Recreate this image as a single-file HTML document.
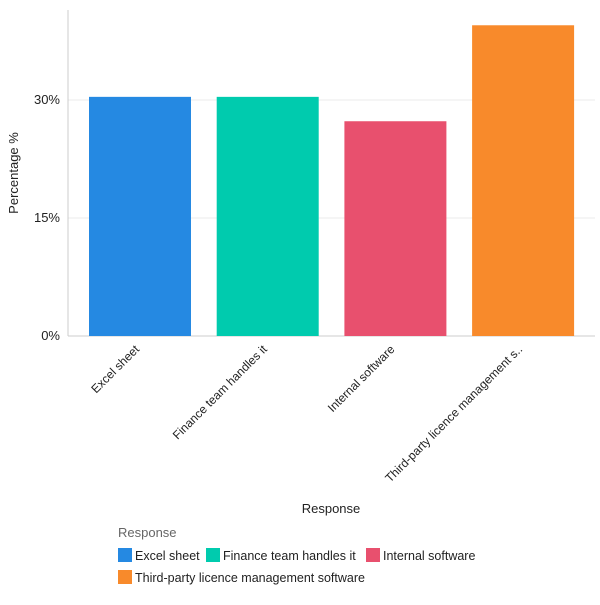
<!DOCTYPE html>
<html><head><meta charset="utf-8"><style>
body{margin:0;background:#fff;font-family:"Liberation Sans",sans-serif;}
svg text{font-family:"Liberation Sans",sans-serif;fill:#222;}
</style></head><body>
<svg id="chart" width="600" height="600"></svg>
<script>
const categories = ["Excel sheet","Finance team handles it","Internal software","Third-party licence management s.."];
const legendLabels = ["Excel sheet","Finance team handles it","Internal software","Third-party licence management software"];
const values = [30.4, 30.4, 27.3, 39.5];
const colors = ["#2589e2","#00cbae","#e8506e","#f88a2b"];
const tickValues = [0, 15, 30];
const tickLabels = ["0%","15%","30%"];

const NS="http://www.w3.org/2000/svg";
const svg=document.getElementById('chart');
const L=68,R=595,T=10,B=336;
const y=v=>B-(v/15)*118;
const band=127.7, off=21, bw=102;
const x=i=>L+off+i*band;
function mk(tag,attrs,parent){const e=document.createElementNS(NS,tag);for(const k in attrs)e.setAttribute(k,attrs[k]);(parent||svg).appendChild(e);return e;}

tickValues.forEach((t,i)=>{
  const g=mk('line',{x1:L,x2:R,y1:y(t),y2:y(t),stroke:i===0?'#ccc':'#ebebeb'});
  
  
  const tx=mk('text',{x:L-8,y:y(t)+4,'text-anchor':'end','font-size':13});
  tx.textContent=tickLabels[i];
  
  
});
const ax=mk('line',{x1:L,x2:L,y1:T,y2:B,stroke:'#ccc'});



values.forEach((v,i)=>{
  const r=mk('rect',{x:x(i),y:y(v),width:bw,height:B-y(v),fill:colors[i]});
  
  
  const cx=x(i)+bw/2;
  const t=mk('text',{x:cx,y:B+14,'text-anchor':'end','font-size':12,transform:`rotate(-45 ${cx} ${B+14})`});
  t.textContent=categories[i];
  
  
});

const yt=mk('text',{x:18,y:(T+B)/2,'text-anchor':'middle','font-size':13,transform:`rotate(-90 18 ${(T+B)/2})`});
yt.textContent="Percentage %";


const xt=mk('text',{x:331,y:513,'text-anchor':'middle','font-size':13});
xt.textContent="Response";



const lt=mk('text',{x:118,y:537,'font-size':13,fill:'#666'});
lt.textContent="Response";
lt.style.fill='#666';


const lpos=[[118,555],[206,555],[366,555],[118,577]];
legendLabels.forEach((s,i)=>{
  const g=mk('g',{});
  
  
  mk('rect',{x:lpos[i][0],y:lpos[i][1]-7,width:14,height:14,fill:colors[i]},g);
  const t=mk('text',{x:lpos[i][0]+17,y:lpos[i][1]+5,'font-size':12.5},g);
  t.textContent=s;
});
</script>
</body></html>
